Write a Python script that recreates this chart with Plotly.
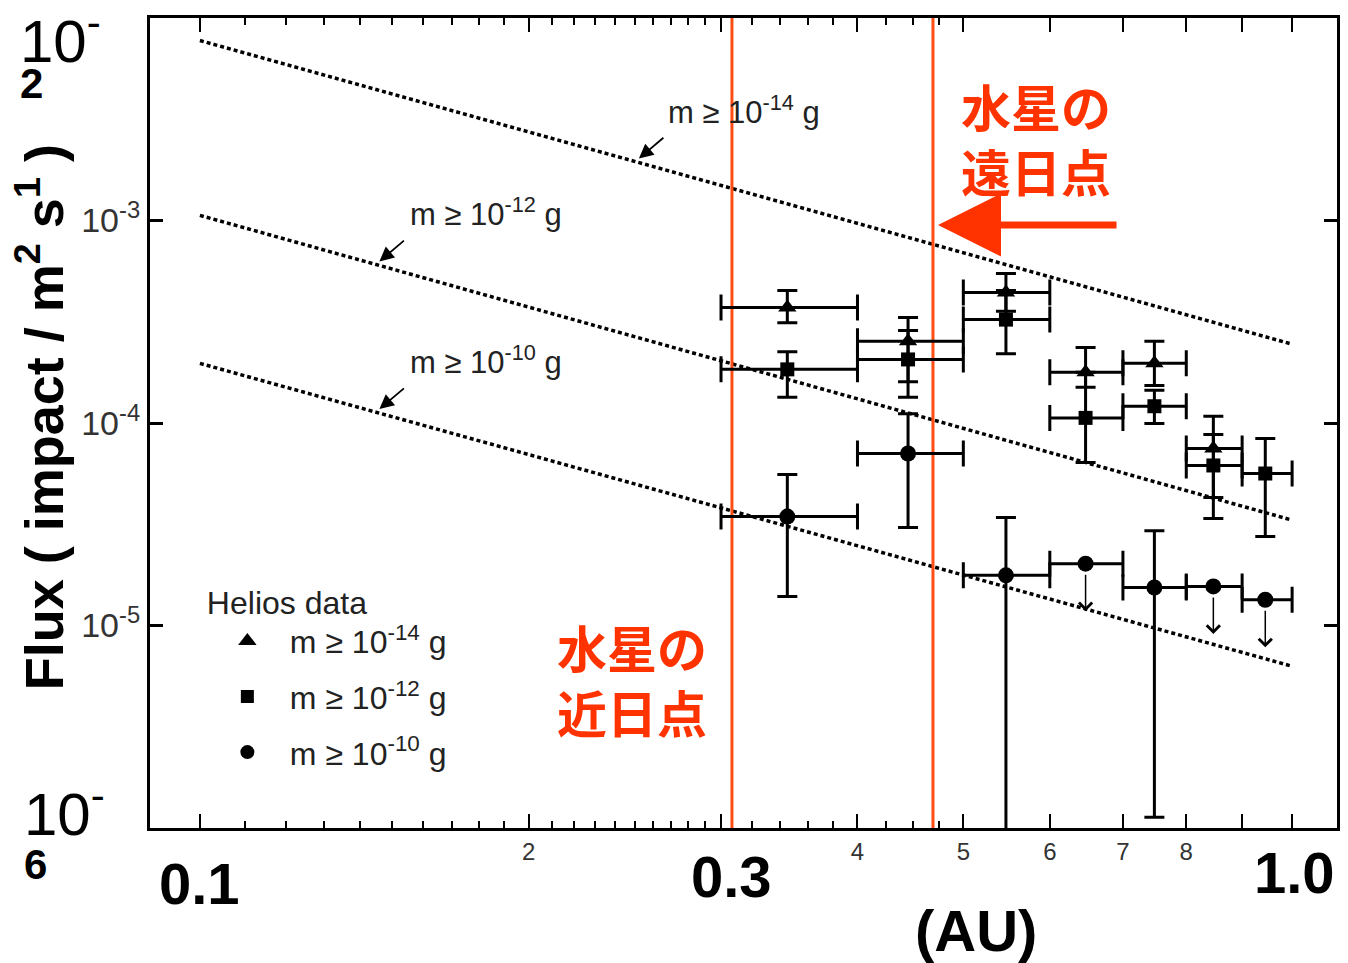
import numpy as np
import plotly.graph_objects as go

# ---------------- data ----------------
# heliocentric distance bins (AU)
r_center = [0.345, 0.445, 0.547, 0.647, 0.748, 0.847, 0.945]
r_low    = [0.30, 0.40, 0.50, 0.60, 0.70, 0.80, 0.90]
r_high   = [0.40, 0.50, 0.60, 0.70, 0.80, 0.90, 1.00]

# m >= 1e-14 g (triangles), first six bins
tri_flux = [3.72e-4, 2.53e-4, 4.41e-4, 1.78e-4, 1.97e-4, 7.48e-5]
tri_hi   = [4.51e-4, 3.32e-4, 5.47e-4, 2.36e-4, 2.53e-4, 1.08e-4]
tri_lo   = [3.13e-4, 1.60e-4, 3.56e-4, 1.50e-4, 1.53e-4, 4.29e-5]

# m >= 1e-12 g (squares)
sq_flux = [1.84e-4, 2.06e-4, 3.24e-4, 1.06e-4, 1.21e-4, 6.17e-5, 5.63e-5]
sq_hi   = [2.25e-4, 2.86e-4, 4.51e-4, 1.78e-4, 1.45e-4, 8.77e-5, 8.38e-5]
sq_lo   = [1.34e-4, 1.34e-4, 2.20e-4, 6.38e-5, 9.94e-5, 3.38e-5, 2.75e-5]

# m >= 1e-10 g (circles); upper limits have no y error
circ_flux  = [3.45e-5, 7.07e-5, 1.77e-5, 2.02e-5, 1.54e-5, 1.56e-5, 1.34e-5]
circ_hi    = [5.57e-5, 1.11e-4, 3.41e-5, None, 2.94e-5, None, None]
circ_lo    = [1.39e-5, 3.05e-5, 5.0e-7, None, 1.13e-6, None, None]
circ_upper = [False, False, False, True, False, True, True]

# model lines (r^-1.5 type), endpoints
model_r  = [0.1, 0.995]
model_14 = [7.74e-3, 2.47e-4]
model_12 = [1.06e-3, 3.34e-5]
model_10 = [1.97e-4, 6.34e-6]
model_labels = ["m ≥ 10<sup>-14</sup> g", "m ≥ 10<sup>-12</sup> g", "m ≥ 10<sup>-10</sup> g"]
label_arrow_r = [0.2523, 0.146, 0.146]

# Mercury perihelion / aphelion (AU)
mercury_perihelion = 0.307
mercury_aphelion = 0.469

x_tickvals = [0.1, 0.2, 0.3, 0.4, 0.5, 0.6, 0.7, 0.8, 0.9, 1.0]
x_ticktext = ["", "2", "", "4", "5", "6", "7", "8", "", ""]
x_minor = ([round(0.1 + 0.01 * i, 2) for i in range(1, 20) if i != 10]
           + [0.32, 0.34, 0.36, 0.38, 0.425, 0.45, 0.475])
y_tickvals = [1e-3, 1e-4, 1e-5]
y_ticktext = ["10<sup>-3</sup>", "10<sup>-4</sup>", "10<sup>-5</sup>"]

# ---------------- layout geometry ----------------
W, H = 1348, 963
ML, MR, MT, MB = 150, 8, 18, 135
PW, PH = W - ML - MR, H - MT - MB


def px(xp):
    return (xp - ML) / PW


def py(yp):
    return (H - MB - yp) / PH


BASE = "Liberation Sans, Arial, sans-serif"
JP = "Noto Sans CJK JP, sans-serif"
RED = "#ff3300"
ORANGE = "#ff4d14"

fig = go.Figure()

# dotted model lines
for ys in (model_14, model_12, model_10):
    fig.add_trace(go.Scatter(x=model_r, y=ys, mode="lines", showlegend=False,
                             line=dict(color="black", width=3.5, dash="4px,3px"),
                             hoverinfo="skip"))

# Mercury orbit vertical lines
for xv in (mercury_perihelion, mercury_aphelion):
    fig.add_trace(go.Scatter(x=[xv, xv], y=[1e-6, 1e-2], mode="lines", showlegend=False,
                             line=dict(color=ORANGE, width=3), hoverinfo="skip"))


def xerr(centers, n):
    return dict(type="data", symmetric=False,
                array=[r_high[i] - centers[i] for i in range(n)],
                arrayminus=[centers[i] - r_low[i] for i in range(n)],
                thickness=3, width=13, color="black")


def yerr(vals, his, los):
    return dict(type="data", symmetric=False,
                array=[h - v for v, h in zip(vals, his)],
                arrayminus=[v - l for v, l in zip(vals, los)],
                thickness=3, width=10, color="black")


n_tri = len(tri_flux)
fig.add_trace(go.Scatter(x=r_center[:n_tri], y=tri_flux, mode="markers", showlegend=False,
                         marker=dict(symbol="triangle-up", size=16, color="black"),
                         error_x=xerr(r_center, n_tri), error_y=yerr(tri_flux, tri_hi, tri_lo)))

n_sq = len(sq_flux)
fig.add_trace(go.Scatter(x=r_center[:n_sq], y=sq_flux, mode="markers", showlegend=False,
                         marker=dict(symbol="square", size=14, color="black"),
                         error_x=xerr(r_center, n_sq), error_y=yerr(sq_flux, sq_hi, sq_lo)))

# circles: measured
idx_m = [i for i, u in enumerate(circ_upper) if not u]
idx_u = [i for i, u in enumerate(circ_upper) if u]
fig.add_trace(go.Scatter(
    x=[r_center[i] for i in idx_m], y=[circ_flux[i] for i in idx_m],
    mode="markers", showlegend=False,
    marker=dict(symbol="circle", size=16, color="black"),
    error_x=dict(type="data", symmetric=False,
                 array=[r_high[i] - r_center[i] for i in idx_m],
                 arrayminus=[r_center[i] - r_low[i] for i in idx_m],
                 thickness=3, width=13, color="black"),
    error_y=dict(type="data", symmetric=False,
                 array=[circ_hi[i] - circ_flux[i] for i in idx_m],
                 arrayminus=[circ_flux[i] - circ_lo[i] for i in idx_m],
                 thickness=3, width=10, color="black")))
# circles: upper limits
fig.add_trace(go.Scatter(
    x=[r_center[i] for i in idx_u], y=[circ_flux[i] for i in idx_u], mode="markers",
    showlegend=False, marker=dict(symbol="circle", size=16, color="black"),
    error_x=dict(type="data", symmetric=False,
                 array=[r_high[i] - r_center[i] for i in idx_u],
                 arrayminus=[r_center[i] - r_low[i] for i in idx_u],
                 thickness=3, width=13, color="black")))

# legend-only entries
for sym, size, name in (("triangle-up", 16, model_labels[0]),
                        ("square", 13, model_labels[1]),
                        ("circle", 14, model_labels[2])):
    fig.add_trace(go.Scatter(x=[None], y=[None], mode="markers", name=name,
                             legendgroup=name,
                             marker=dict(symbol=sym, size=size, color="black")))

ann = []


def text_ann(t, xp, yp, font, **kw):
    d = dict(x=px(xp), y=py(yp), xref="paper", yref="paper", text=t,
             showarrow=False, xanchor="center", yanchor="middle", font=font)
    d.update(kw)
    ann.append(d)


# upper-limit arrows
for i in idx_u:
    tip = np.log10(circ_flux[i]) - 0.235
    ann.append(dict(x=np.log10(r_center[i]), y=tip, xref="x", yref="y",
                    ax=0, ay=-38, showarrow=True, arrowhead=4, arrowsize=1.7,
                    arrowwidth=1.5, arrowcolor="black", text=""))

# model line labels with small arrows
label_pos = [(745, 110), (487, 212), (487, 360)]
for ys, lab, ar, (lx, ly) in zip((model_14, model_12, model_10), model_labels,
                                 label_arrow_r, label_pos):
    slope = (np.log10(ys[1]) - np.log10(ys[0])) / (np.log10(model_r[1]) - np.log10(model_r[0]))
    ly_tip = np.log10(ys[0]) + slope * (np.log10(ar) - np.log10(model_r[0]))
    ann.append(dict(x=np.log10(ar), y=ly_tip + 0.02, xref="x", yref="y",
                    ax=26, ay=-22, showarrow=True, arrowhead=2, arrowsize=1.6,
                    arrowwidth=1.8, arrowcolor="black", text=""))
    text_ann(lab, lx, ly, dict(family=BASE, size=31, color="#222"))

# Japanese labels
jp_font = dict(family=JP, size=50, color=RED, weight="bold")
text_ann("水星の<br>遠日点", 1038, 137, jp_font)
text_ann("水星の<br>近日点", 633, 678, jp_font)
# big red arrow
ann.append(dict(x=px(940), y=py(225), xref="paper", yref="paper", text="",
                ax=180, ay=0, showarrow=True, arrowhead=2, arrowsize=1.8,
                arrowwidth=7, arrowcolor=RED, standoff=0))

# big axis labels
big = dict(family=BASE, size=58, color="black", weight="bold")
for t, (lx, ly) in (("0.1", (200, 883)), ("0.3", (733, 876)),
                    ("1.0", (1297, 872)), ("(AU)", (978, 930))):
    text_ann(t, lx, ly, big)

# y-axis big decade labels
text_ann("10<sup>-</sup>", 18, 37, dict(family=BASE, size=60, color="black"), xanchor="left")
text_ann("2", 31, 83, dict(family=BASE, size=42, color="black", weight="bold"))
text_ann("10<sup>-</sup>", 22, 810, dict(family=BASE, size=60, color="black"), xanchor="left")
text_ann("6", 35, 864, dict(family=BASE, size=42, color="black", weight="bold"))

# y title
text_ann("Flux ( impact / m<sup>2</sup> s<sup>1</sup> )", 40, 417,
         dict(family=BASE, size=54, color="black", weight="bold"), textangle=-90)

fig.update_layout(
    width=W, height=H,
    margin=dict(l=ML, r=MR, t=MT, b=MB),
    plot_bgcolor="white", paper_bgcolor="white",
    annotations=ann,
    showlegend=True,
    legend=dict(x=px(205), y=py(572), xanchor="left", yanchor="top",
                bgcolor="rgba(0,0,0,0)", tracegroupgap=11, itemwidth=75,
                font=dict(family=BASE, size=32, color="#222"),
                title=dict(text="Helios data", font=dict(family=BASE, size=32, color="#222"))),
    xaxis=dict(type="log", range=[-1.0457, 0.0411], showgrid=False, zeroline=False,
               showline=True, linewidth=3, linecolor="black", mirror="ticks",
               ticks="inside", ticklen=14, tickwidth=2, tickcolor="black",
               tickvals=x_tickvals, ticktext=x_ticktext,
               tickfont=dict(family=BASE, size=24, color="#333"),
               minor=dict(tickmode="array", tickvals=x_minor, ticks="inside",
                          ticklen=7, tickwidth=1.5, tickcolor="black")),
    yaxis=dict(type="log", range=[-6, -2], showgrid=False, zeroline=False,
               showline=True, linewidth=3, linecolor="black", mirror="ticks",
               ticks="inside", ticklen=13, tickwidth=2.5, tickcolor="black",
               tickvals=y_tickvals, ticktext=y_ticktext,
               tickfont=dict(family=BASE, size=34, color="#333")),
)

fig.write_html("out.html")
